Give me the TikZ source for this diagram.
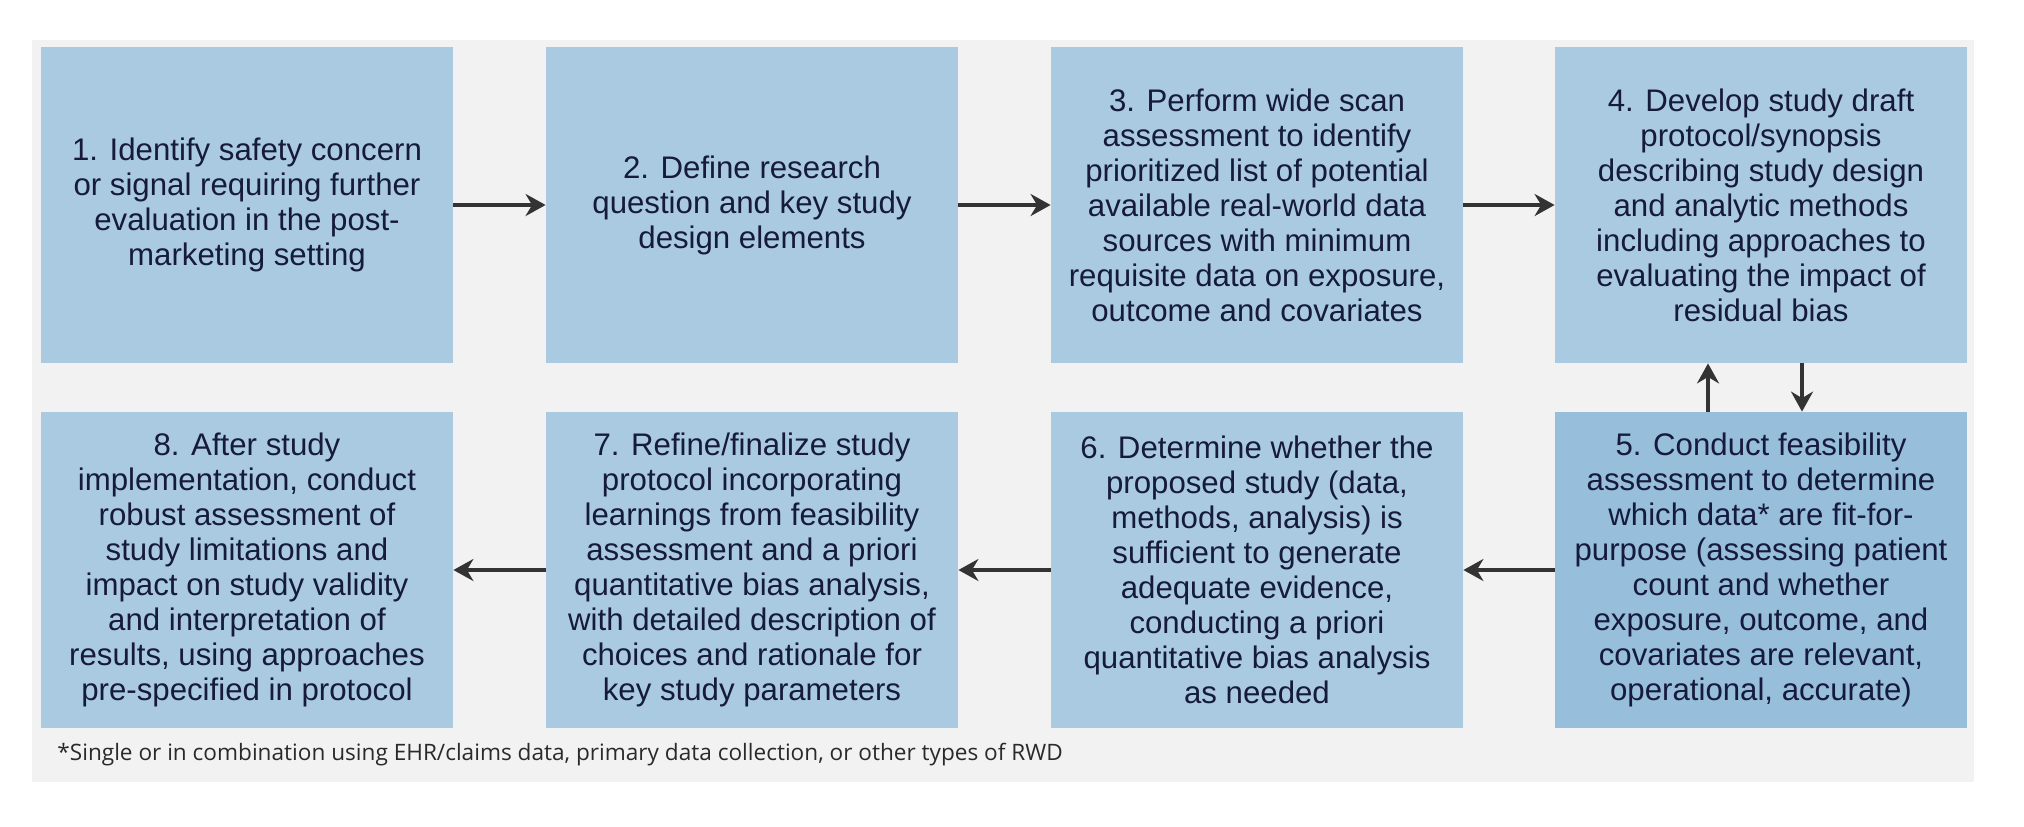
\documentclass[tikz,border=0pt]{standalone}
\usepackage{fontspec}
\setmainfont{Liberation Sans}
\newfontfamily\notefont{Open Sans}
\usetikzlibrary{arrows.meta,calc}
\definecolor{bgrey}{HTML}{F2F2F2}
\definecolor{lblue}{HTML}{A9CAE1}
\definecolor{dblue}{HTML}{97BEDB}
\definecolor{navy}{HTML}{161A3C}
\definecolor{arrgrey}{HTML}{333333}
\definecolor{notegrey}{HTML}{2A2A2A}
\begin{document}
\begin{tikzpicture}[x=0.5pt,y=-0.5pt,
  stepbox/.style={fill=lblue, minimum width=206pt, minimum height=158pt, inner sep=0pt,
    align=center, text=navy, font=\fontsize{15.6pt}{17.5pt}\selectfont},
  flow/.style={draw=arrgrey, line width=2pt, -{Stealth[length=10pt,width=11pt]}}]
\fill[white] (0,0) rectangle (2024,826);
\useasboundingbox (0,0) rectangle (2024,826);
\fill[bgrey] (32,40) rectangle (1974,782);
% top row
\node[stepbox] (s1) at (247,205) {1. Identify safety concern\\or signal requiring further\\evaluation in the post-\\marketing setting};
\node[stepbox] (s2) at (752,205) {2. Define research\\question and key study\\design elements};
\node[stepbox] (s3) at (1257,205) {3. Perform wide scan\\assessment to identify\\prioritized list of potential\\available real-world data\\sources with minimum\\requisite data on exposure,\\outcome and covariates};
\node[stepbox] (s4) at (1761,205) {4. Develop study draft\\protocol/synopsis\\describing study design\\and analytic methods\\including approaches to\\evaluating the impact of\\residual bias};
% bottom row
\node[stepbox, fill=dblue] (s5) at (1761,570) {5. Conduct feasibility\\assessment to determine\\which data* are fit-for-\\purpose (assessing patient\\count and whether\\exposure, outcome, and\\covariates are relevant,\\operational, accurate)};
\node[stepbox] (s6) at (1257,570) {6. Determine whether the\\proposed study (data,\\methods, analysis) is\\sufficient to generate\\adequate evidence,\\conducting a priori\\quantitative bias analysis\\as needed};
\node[stepbox] (s7) at (752,570) {7. Refine/finalize study\\protocol incorporating\\learnings from feasibility\\assessment and a priori\\quantitative bias analysis,\\with detailed description of\\choices and rationale for\\key study parameters};
\node[stepbox] (s8) at (247,570) {8. After study\\implementation, conduct\\robust assessment of\\study limitations and\\impact on study validity\\and interpretation of\\results, using approaches\\pre-specified in protocol};
% connectors
\draw[flow] (s1) -- (s2);
\draw[flow] (s2) -- (s3);
\draw[flow] (s3) -- (s4);
\coordinate (upx) at (1708,0);
\coordinate (dnx) at (1802,0);
\draw[flow] (s5.north -| upx) -- (s4.south -| upx);
\draw[flow] (s4.south -| dnx) -- (s5.north -| dnx);
\draw[flow] (s5) -- (s6);
\draw[flow] (s6) -- (s7);
\draw[flow] (s7) -- (s8);
% footnote
\node[anchor=west, inner sep=0pt, text=notegrey, font=\notefont\fontsize{11.3pt}{13pt}\selectfont] (fn) at (57,755) {*Single or in combination using EHR/claims data, primary data collection, or other types of RWD};
\end{tikzpicture}
\end{document}
